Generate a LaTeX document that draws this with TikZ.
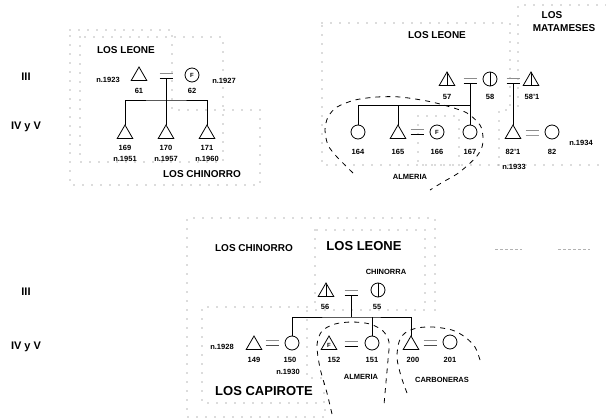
\documentclass[tikz,border=0pt]{standalone}
\usepackage{fontspec}
\setmainfont{Liberation Sans}
\usetikzlibrary{shapes.geometric}
\tikzset{
  male/.style={regular polygon,regular polygon sides=3,draw,line width=0.8pt,minimum size=18pt,inner sep=0pt,outer sep=0pt,font=\fontsize{6}{6}\selectfont\bfseries},
  female/.style={circle,draw,line width=0.8pt,minimum size=14pt,inner sep=0pt,outer sep=0pt,font=\fontsize{6}{6}\selectfont\bfseries},
  struck/.style={path picture={\draw[line width=0.8pt] (path picture bounding box.north) -- (path picture bounding box.south);}},
  wed/.style={minimum width=13pt,minimum height=5pt,inner sep=0pt,outer sep=0pt},
  kin/.style={line width=0.9pt},
  grp/.style={draw=black!60,line width=1.3pt,dash pattern=on 0pt off 9pt,line cap=round},
  zone/.style={line width=0.8pt,dash pattern=on 5pt off 5pt},
  num/.style={font=\fontsize{7.5}{8}\selectfont\bfseries,inner sep=0pt},
  clan/.style={font=\fontsize{10}{11}\selectfont\bfseries,inner sep=0pt},
  bigclan/.style={font=\fontsize{13}{14}\selectfont\bfseries,inner sep=0pt},
  gen/.style={font=\fontsize{11}{12}\selectfont\bfseries,inner sep=0pt},
}
\begin{document}
\begin{tikzpicture}[x=1pt,y=-1pt]
  \useasboundingbox (0,0) rectangle (606,418);
  % generations
  \node[gen] (g3a) at (26,77) {III};
  \node[gen] (g4a) at (26,127) {IV y V};
  \node[gen] (g3b) at (26,292) {III};
  \node[gen] (g4b) at (26,347) {IV y V};

  % ---- top left
  \draw[grp] (80,37) rectangle (223,162);
  \draw[grp] (70,30) -- (172,30) -- (172,110) -- (260,110) -- (260,185) -- (70,185) -- cycle;
  \node[clan] (leone1) at (126,50) {LOS LEONE};
  \node[clan] (chin1) at (202,174) {LOS CHINORRO};
  \node[male] (m61) at (139,76) {};
  \node[wed] (w1) at (166,76) {};
  \node[female] (f62) at (192,75) {F};
  \node[num] (l61) at (139,91) {61};
  \node[num] (l62) at (192,91) {62};
  \node[num] (d61) at (108,80) {n.1923};
  \node[num] (d62) at (224,81) {n.1927};
  \coordinate (s1) at (166,100);
  \foreach \n/\x/\b in {169/125/1951,170/166/1957,171/207/1960}{
    \node[male] (m\n) at (\x,134) {};
    \node[num] (l\n) at ([yshift=-14pt]m\n) {\n};
    \node[num] (d\n) at ([yshift=-25pt]m\n) {n.\b};}
  \draw[kin] (w1.south) -- (m170.north);
  \draw[kin] (m169.north) |- (s1) -| (m171.north);

  % ---- top right
  \draw[grp] (322,23) -- (510,23) -- (510,110) -- (499,110) -- (499,165) -- (322,165) -- cycle;
  \draw[grp] (606,5) -- (518,5) -- (518,110);
  \draw[grp] (499,165) -- (606,165);
  \draw[grp] (418,116) rectangle (459,165);
  \node[clan] (leone2) at (437,35) {LOS LEONE};
  \node[clan] (mata1) at (552,15) {LOS};
  \node[clan] (mata2) at (564,28) {MATAMESES};
  \node[male,struck] (m57) at (447,81) {};
  \node[wed] (w2) at (470,81) {};
  \node[female,struck] (f58) at (490,79) {};
  \node[wed] (w3) at (513,81) {};
  \node[male,struck] (m581) at (531,81) {};
  \node[num] (l57) at (447,97) {57};
  \node[num] (l58) at (490,97) {58};
  \node[num] (l581) at (532,97) {58'1};
  \coordinate (s2) at (470,105);
  \node[female] (f164) at (358,132) {};
  \node[male] (m165) at (398,134) {};
  \node[wed] (w4) at (417,132) {};
  \node[female] (f166) at (437,132) {F};
  \node[female] (f167) at (470,132) {};
  \node[male] (m821) at (513,134) {};
  \node[wed] (w5) at (532,133) {};
  \node[female] (f82) at (552,132) {};
  \foreach \p/\t in {f164/164,m165/165,f166/166,f167/167,m821/82'1,f82/82}{
    \node[num] (l\p) at (\p |- 0,152) {\t};}
  \node[num] (d82) at (581,143) {n.1934};
  \node[num] (d821) at (514,167) {n.1933};
  \node[num] (alm1) at (410,177) {ALMERIA};
  \draw[kin] (w2.south) -- (f167.north);
  \draw[kin] (f164.north) |- (s2);
  \draw[kin] (m165.north) -- (m165 |- s2);
  \draw[kin] (w3.south) -- (m821.north);
  \draw[zone] plot[smooth] coordinates {(353,173) (337,157) (328,145) (325,130) (328,117) (337,107) (355,100) (377,97) (400,97) (427,101) (447,106) (467,113) (480,125) (483,137) (482,147) (477,156) (468,165) (457,174) (443,182) (430,190)};

  % ---- bottom
  \draw[grp] (435,310) -- (435,218) -- (187,218) -- (187,417) -- (325,417) -- (325,403);
  \draw[grp] (315,230) rectangle (425,310);
  \draw[grp] (307,307) -- (202,307) -- (202,403) -- (324,403) -- (324,378) -- (307,378) -- cycle;
  \node[clan] (chin2) at (254,248) {LOS CHINORRO};
  \node[bigclan] (leone3) at (364,246) {LOS LEONE};
  \node[num] (chinorra) at (386,272) {CHINORRA};
  \node[bigclan] (capi) at (264,391) {LOS CAPIROTE};
  \node[male,struck] (m56) at (326,292) {};
  \node[wed] (w6) at (351,293) {};
  \node[female,struck] (f55) at (378,290) {};
  \node[num] (l56) at (325,307) {56};
  \node[num] (l55) at (377,307) {55};
  \coordinate (s3) at (351,317);
  \node[male] (m149) at (254,345) {};
  \node[wed] (w7) at (272,343) {};
  \node[female] (f150) at (292,343) {};
  \node[male] (m152) at (329,345) {F};
  \node[wed] (w8) at (351,344) {};
  \node[female] (f151) at (372,343) {};
  \node[male] (m200) at (411,345) {};
  \node[wed] (w9) at (430,343) {};
  \node[female] (f201) at (450,342) {};
  \foreach \p/\t/\x in {m149/149/254,f150/150/290,m152/152/334,f151/151/372,m200/200/413,f201/201/450}{
    \node[num] (l\p) at (\x,360) {\t};}
  \node[num] (d149) at (222,347) {n.1928};
  \node[num] (d150) at (288,372) {n.1930};
  \node[num] (alm2) at (361,377) {ALMERIA};
  \node[num] (carb) at (442,380) {CARBONERAS};
  \draw[kin] (w6.south) -- (s3);
  \draw[kin] (f150.north) |- (s3) -| (m200.north);
  \draw[kin] (f151.north) -- (f151 |- s3);
  \draw[zone] plot[smooth] coordinates {(332,414) (327,393) (320,368) (317,345) (322,331) (335,324) (352,322) (370,324) (383,331) (389,342) (388,360) (386,382) (384,405)};
  \draw[zone] plot[smooth] coordinates {(407,393) (401,376) (397,358) (399,342) (405,333) (417,328) (433,327) (452,330) (465,337) (475,347) (480,360)};
  \draw[black!30,line width=0.8pt,dash pattern=on 3pt off 2pt] (495,249) -- (522,249) (558,249) -- (590,249);

  % marriage signs
  \foreach \w/\c in {w1/black,w2/black,w3/black,w4/black,w5/black!40,w6/black,w7/black!70,w8/black,w9/black!70}{
    \draw[kin,black!45] (\w.north west) -- (\w.north east);
    \draw[kin,\c] (\w.south west) -- (\w.south east);}
\end{tikzpicture}
\end{document}
